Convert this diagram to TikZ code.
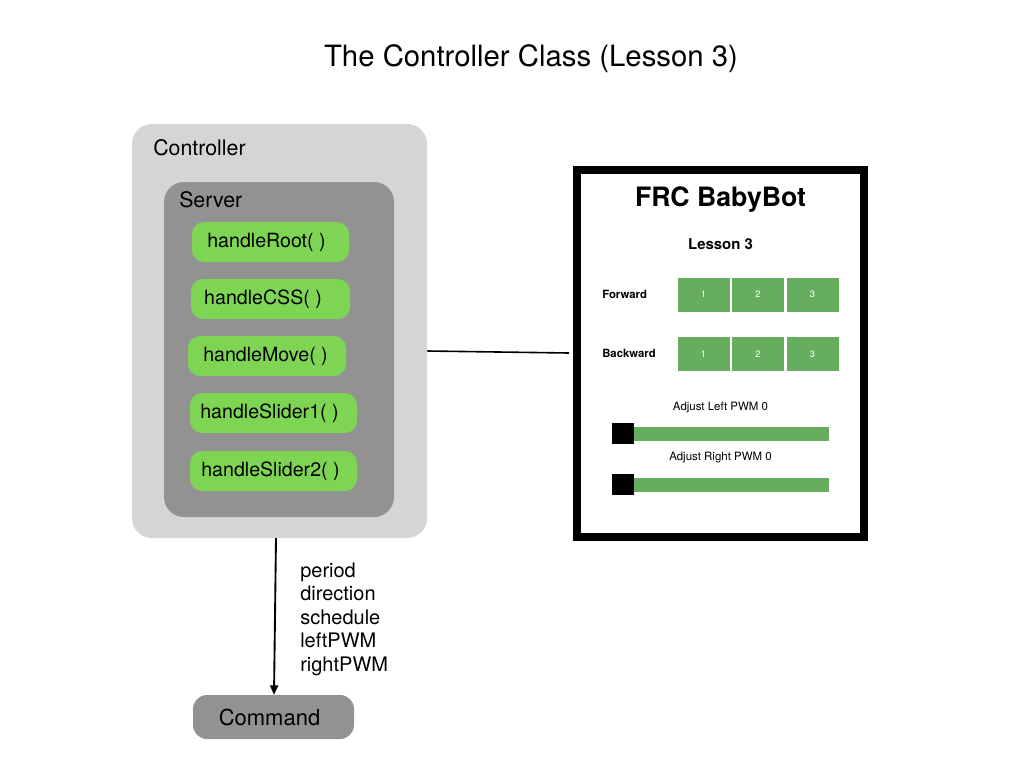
\documentclass[tikz,border=0pt]{standalone}
\usepackage{fontspec}
\setmainfont{TeX Gyre Heros}
\usetikzlibrary{arrows.meta}
\definecolor{ctrlgray}{RGB}{214,212,213}
\definecolor{servgray}{RGB}{146,146,146}
\definecolor{fngreen}{RGB}{126,213,83}
\definecolor{btngreen}{RGB}{102,173,94}
\tikzset{
  ctrlbox/.style={fill=ctrlgray, rounded corners=15pt, inner sep=0pt},
  servbox/.style={fill=servgray, rounded corners=15pt, inner sep=0pt},
  fnbox/.style={fill=fngreen, rounded corners=9pt, inner sep=0pt, minimum height=30pt, font=\fontsize{14.7}{17}\selectfont},
  cmdbox/.style={fill=servgray, rounded corners=10.5pt, inner sep=0pt, minimum width=120.75pt, minimum height=33pt, font=\fontsize{16.5}{19}\selectfont},
  boxlabel/.style={anchor=west, inner sep=0pt, font=\fontsize{16}{19}\selectfont},
  panelframe/.style={draw=black, fill=white, line width=6pt, minimum width=215.25pt, minimum height=275.25pt, inner sep=0pt},
  btn/.style={fill=btngreen, minimum width=39pt, minimum height=25.5pt, inner sep=0pt, text=white, font=\fontsize{7}{8}\selectfont},
  rowlabel/.style={anchor=west, inner sep=0pt, font=\bfseries\fontsize{8.5}{10}\selectfont},
  pwmlabel/.style={inner sep=0pt, font=\fontsize{8.6}{10}\selectfont},
  sliderbar/.style={fill=btngreen, minimum height=10.5pt, inner sep=0pt},
  knob/.style={fill=black, minimum width=16.5pt, minimum height=15.75pt, inner sep=0pt},
  conn/.style={draw=black, line width=1.2pt},
  arr/.style={draw=black, line width=1.4pt, -{Triangle[length=7pt,width=6pt]}}
}
\begin{document}
\begin{tikzpicture}[x=0.75pt, y=-0.75pt]
\useasboundingbox (0,0) rectangle (1024,768);
% title
\node[inner sep=0pt, font=\fontsize{22}{26}\selectfont] (title) at (531,59) {The Controller Class (Lesson 3)};
% controller
\node[ctrlbox, minimum width=221.25pt, minimum height=310.5pt] (ctrl) at (279.5,331) {};
\node[boxlabel] (ctrllbl) at (153,148) {Controller};
\node[servbox, minimum width=172.5pt, minimum height=251.25pt] (serv) at (279,349.5) {};
\node[boxlabel] (servlbl) at (179,200) {Server};
\node[fnbox, minimum width=117.75pt] (f1) at (270.5,242) {handleRoot( )\kern6pt};
\node[fnbox, minimum width=119.25pt] (f2) at (270.5,299) {handleCSS( )\kern11.2pt};
\node[fnbox, minimum width=118.5pt] (f3) at (267,356) {handleMove( )\kern2.25pt};
\node[fnbox, minimum width=125.25pt] (f4) at (273.5,413) {handleSlider1( )\kern6pt};
\node[fnbox, minimum width=125.25pt] (f5) at (273.5,471) {handleSlider2( )\kern4.5pt};
% panel
\node[panelframe] (panel) at (720.5,353.5) {};
\node[inner sep=0pt, font=\bfseries\fontsize{20}{24}\selectfont] (frc) at (720.5,200) {FRC BabyBot};
\node[inner sep=0pt, font=\bfseries\fontsize{11.2}{13}\selectfont] (lesson) at (720.5,244) {Lesson 3};
\node[rowlabel] (fwd) at (602,294) {Forward};
\node[rowlabel] (bwd) at (602,353) {Backward};
\node[btn] (fb1) at (703.5,294.5) {1};
\node[btn] (fb2) at (758,294.5) {2};
\node[btn] (fb3) at (812.5,294.5) {3};
\node[btn] (bb1) at (703.5,354) {1};
\node[btn] (bb2) at (758,354) {2};
\node[btn] (bb3) at (812.5,354) {3};
\node[pwmlabel] (pwml) at (720.5,408) {Adjust Left PWM 0};
\node[sliderbar, minimum width=154.5pt] (barl) at (726,434) {};
\node[knob] (knobl) at (623,433.5) {};
\node[pwmlabel] (pwmr) at (720.5,458) {Adjust Right PWM 0};
\node[sliderbar, minimum width=154.5pt] (barr) at (726,484.5) {};
\node[knob] (knobr) at (623,484) {};
% command
\node[cmdbox] (cmd) at (273.5,717) {Command\kern6pt};
\node[anchor=west, inner sep=0pt, align=left, font=\fontsize{15}{17.6}\selectfont] (params) at (300,619) {period\\direction\\schedule\\leftPWM\\rightPWM};
% connectors
\coordinate (c1) at (ctrl.east |- 0,351);
\coordinate (c2) at (panel.west |- 0,353);
\draw[conn] (c1) -- ([xshift=-3pt]c2);
\coordinate (a1) at (276,538);
\draw[arr] (a1) -- (cmd.north -| 274,0);
\end{tikzpicture}
\end{document}
